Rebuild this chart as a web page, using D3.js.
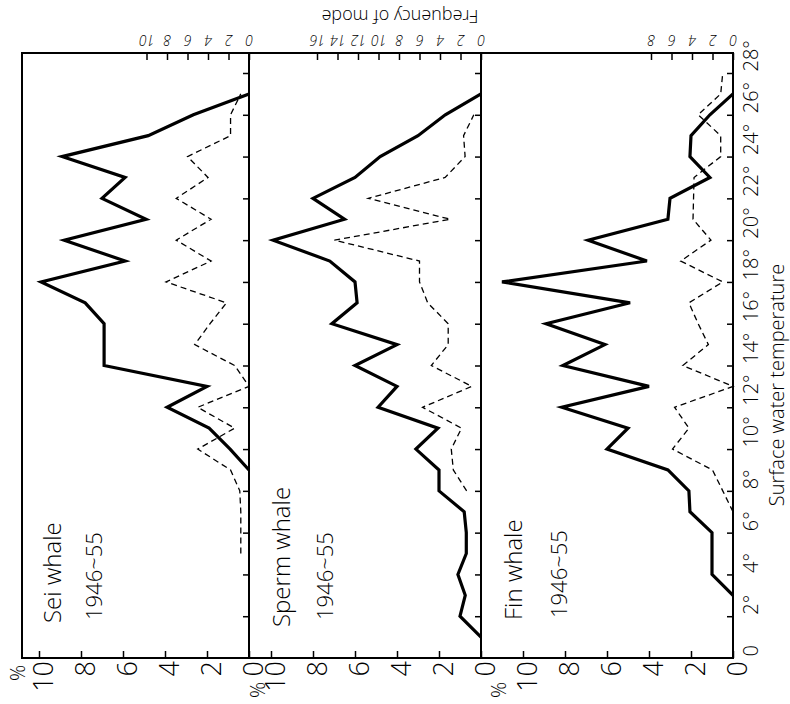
<!DOCTYPE html>
<html>
<head>
<meta charset="utf-8">
<script src="https://cdn.jsdelivr.net/npm/d3@7"></script>
<style>
  body { margin: 0; background: #fff; }
  text { font-family: "Open Sans", "Lato", sans-serif; font-weight: 300; }
</style>
</head>
<body>
<div id="chart"></div>
<script>
// surface water temperature ticks (°C) and value-axis ticks
const tempTicks = [0, 2, 4, 6, 8, 10, 12, 14, 16, 18, 20, 22, 24, 26, 28];
const pctTicks = [0, 2, 4, 6, 8, 10];
const seiFreqTicks = [0, 2, 4, 6, 8, 10];
const spermFreqTicks = [0, 2, 4, 6, 8, 10, 12, 14, 16];
const finFreqTicks = [0, 2, 4, 6, 8];

// Sei whale: catch % (solid) and frequency of mode (dashed)
const seiPercentTemp = [9, 10, 11, 12, 13, 14, 15, 16, 17, 18, 19, 20, 21, 22, 23, 24, 25, 26, 27];
const seiPercent = [0, 0.9, 1.9, 3.9, 2.0, 6.9, 6.9, 6.9, 7.8, 9.9, 5.9, 8.8, 4.9, 7.0, 5.9, 8.9, 4.8, 2.65, 0];
const seiFreqTemp = [5, 6, 7, 8, 9, 10, 11, 12, 13, 14, 15, 16, 17, 18, 19, 20, 21, 22, 23, 24, 25, 26, 27];
const seiFreq = [0.8, 0.8, 0.8, 0.9, 1.8, 5.0, 1.4, 5.0, 0, 1.4, 5.3, 3.8, 2.2, 8.1, 3.7, 7.1, 3.7, 7.1, 4.0, 6.0, 1.8, 1.8, 0.8];

// Sperm whale
const spermPercentTemp = [1, 2, 3, 4, 5, 6, 7, 8, 9, 10, 11, 12, 13, 14, 15, 16, 17, 18, 19, 20, 21, 22, 23, 24, 25, 26, 27];
const spermPercent = [0, 1.0, 0.75, 1.1, 0.7, 0.7, 0.8, 2.0, 2.0, 3.1, 2.05, 4.9, 4.0, 6.0, 4.0, 7.1, 5.9, 6.0, 7.2, 9.9, 6.5, 8.0, 6.0, 4.8, 3.0, 1.7, 0];
const spermFreqTemp = [8, 9, 10, 11, 12, 13, 14, 15, 16, 17, 18, 19, 20, 21, 22, 23, 24, 25, 26];
const spermFreq = [1.4, 2.7, 2.9, 1.9, 5.7, 0.9, 4.85, 3.2, 3.2, 5.2, 6.0, 6.0, 14.3, 3.0, 11.0, 3.5, 1.55, 1.7, 0.7];

// Fin whale
const finPercentTemp = [3, 4, 5, 6, 7, 8, 9, 10, 11, 12, 13, 14, 15, 16, 17, 18, 19, 20, 21, 22, 23, 24, 25, 26, 27];
const finPercent = [0, 1.0, 1.0, 1.0, 2.05, 2.1, 3.1, 6.0, 5.0, 8.15, 4.0, 8.1, 6.1, 8.9, 4.9, 11.0, 4.1, 6.9, 3.1, 3.0, 1.1, 2.05, 2.0, 1.1, 0];
const finFreqTemp = [7, 8, 9, 10, 11, 12, 13, 14, 15, 16, 17, 18, 19, 20, 21, 22, 23, 24, 25, 26, 27, 28];
const finFreq = [0, 1.0, 2.0, 5.9, 4.3, 5.7, 0, 4.9, 2.4, 3.4, 4.3, 1.0, 5.1, 2.15, 3.9, 3.85, 3.8, 1.2, 1.2, 3.4, 1.2, 1.0];

const width = 790, height = 704;
const frame = {left: 22, right: 733, top: 53, bottom: 658};

const svg = d3.select("#chart").append("svg")
  .attr("width", width)
  .attr("height", height);

svg.append("rect").attr("width", width).attr("height", height).attr("fill", "#fff");

// chart is printed turned on its side: temperature runs bottom -> top
const temp = d3.scaleLinear().domain([0, 28]).range([frame.bottom, 73]);

const panels = [
  {title: "Sei whale", zero: 249, pT: seiPercentTemp, p: seiPercent, fT: seiFreqTemp, f: seiFreq,
   fTicks: seiFreqTicks, titleAt: [61, 623], yearAt: [102, 620], pctAt: [25, 673]},
  {title: "Sperm whale", zero: 481, pT: spermPercentTemp, p: spermPercent, fT: spermFreqTemp, f: spermFreq,
   fTicks: spermFreqTicks, titleAt: [290, 627], yearAt: [333, 620], pctAt: [265, 690]},
  {title: "Fin whale", zero: 733, pT: finPercentTemp, p: finPercent, fT: finFreqTemp, f: finFreq,
   fTicks: finFreqTicks, titleAt: [522, 620], yearAt: [567, 618], pctAt: [506, 690]},
];

panels.forEach(p => {
  const pct = d3.scaleLinear().domain([0, 10]).range([p.zero, p.zero - 210]);
  const freq = d3.scaleLinear().domain([0, 10]).range([p.zero, p.zero - 102.5]);

  // % axis along the bottom edge
  svg.append("g")
    .attr("transform", `translate(0,${frame.bottom})`)
    .call(d3.axisBottom(pct).tickValues(pctTicks).tickSize(-7).tickFormat(d3.format("d")))
    .call(g => g.select(".domain").remove())
    .call(g => g.selectAll("line").attr("stroke-width", 1.5))
    .call(g => g.selectAll("text")
      .attr("x", -3).attr("y", 0).attr("dy", "0.5em")
      .attr("transform", "rotate(-90)")
      .attr("text-anchor", "end")
      .attr("font-size", 27));

  // frequency of mode axis along the top edge (upside down)
  svg.append("g")
    .attr("transform", `translate(0,${frame.top})`)
    .call(d3.axisTop(freq).tickValues(p.fTicks).tickSize(-7).tickFormat(d3.format("d")))
    .call(g => g.select(".domain").remove())
    .call(g => g.selectAll("line").attr("stroke-width", 1.5))
    .call(g => g.selectAll("text")
      .attr("x", 0).attr("y", 0).attr("dy", null)
      .attr("transform", "translate(0,-18) rotate(180)")
      .attr("text-anchor", "middle")
      .attr("font-style", "italic")
      .attr("font-size", 14));

  // temperature ticks on the panel's zero line
  svg.append("g")
    .attr("transform", `translate(${p.zero},0)`)
    .call(d3.axisLeft(temp).tickValues(tempTicks.filter(t => t > 0)).tickSize(6).tickFormat(""))
    .call(g => g.select(".domain").remove())
    .call(g => g.selectAll("line").attr("stroke-width", 1.5));

  svg.append("line")
    .attr("x1", p.zero).attr("x2", p.zero)
    .attr("y1", frame.top).attr("y2", frame.bottom)
    .attr("stroke", "#000").attr("stroke-width", 2);

  const pctLine = d3.line().x(d => pct(d[1])).y(d => temp(d[0]));
  const freqLine = d3.line().x(d => freq(d[1])).y(d => temp(d[0]));

  svg.append("path")
    .attr("d", freqLine(d3.zip(p.fT, p.f)))
    .attr("fill", "none")
    .attr("stroke", "#000")
    .attr("stroke-width", 1.3)
    .attr("stroke-dasharray", "6,4");

  svg.append("path")
    .attr("d", pctLine(d3.zip(p.pT, p.p)))
    .attr("fill", "none")
    .attr("stroke", "#000")
    .attr("stroke-width", 3.2)
    .attr("stroke-linejoin", "miter");

  svg.append("text")
    .attr("transform", `translate(${p.titleAt[0]},${p.titleAt[1]}) rotate(-90)`)
    .attr("font-size", 24)
    .text(p.title);

  svg.append("text")
    .attr("transform", `translate(${p.yearAt[0]},${p.yearAt[1]}) rotate(-90)`)
    .attr("font-size", 22)
    .text("1946~55");

  svg.append("text")
    .attr("transform", `translate(${p.pctAt[0]},${p.pctAt[1]}) rotate(-90)`)
    .attr("text-anchor", "middle")
    .attr("font-size", 20)
    .text("%");
});

// frame
svg.append("rect")
  .attr("x", frame.left).attr("y", frame.top)
  .attr("width", frame.right - frame.left)
  .attr("height", frame.bottom - frame.top)
  .attr("fill", "none")
  .attr("stroke", "#000")
  .attr("stroke-width", 2);

// temperature labels on the right
svg.append("g")
  .attr("transform", `translate(${frame.right},0)`)
  .call(d3.axisRight(temp).tickValues(tempTicks).tickSize(0).tickFormat(d => d ? d + "°" : "0"))
  .call(g => g.select(".domain").remove())
  .call(g => g.selectAll("text")
    .attr("x", 2).attr("y", 25).attr("dy", null)
    .attr("transform", "rotate(-90)")
    .attr("text-anchor", "start")
    .attr("font-size", 20));

svg.append("text")
  .attr("transform", "translate(784,385) rotate(-90)")
  .attr("text-anchor", "middle")
  .attr("font-size", 20)
  .text("Surface water temperature");

svg.append("text")
  .attr("transform", "translate(400,10) rotate(180)")
  .attr("text-anchor", "middle")
  .attr("font-size", 18)
  .text("Frequency of mode");
</script>
</body>
</html>
